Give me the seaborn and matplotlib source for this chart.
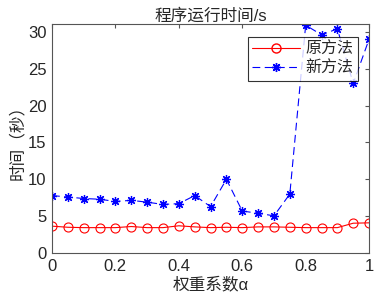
import numpy as np
import pandas as pd
import matplotlib
matplotlib.use("Agg")
import matplotlib.pyplot as plt
import seaborn as sns
from matplotlib.lines import Line2D

alpha = [0.0, 0.05, 0.1, 0.15, 0.2, 0.25, 0.3, 0.35, 0.4, 0.45, 0.5,
         0.55, 0.6, 0.65, 0.7, 0.75, 0.8, 0.85, 0.9, 0.95, 1.0]
old_method = [3.65, 3.5, 3.45, 3.45, 3.45, 3.6, 3.45, 3.45, 3.7, 3.55, 3.45,
              3.5, 3.45, 3.55, 3.55, 3.5, 3.45, 3.45, 3.45, 4.05, 4.1]
new_method = [7.8, 7.6, 7.4, 7.3, 7.0, 7.15, 6.9, 6.6, 6.7, 7.8, 6.3,
              10.0, 5.7, 5.4, 5.05, 8.0, 30.9, 29.6, 30.4, 23.0, 29.0]
series_names = ["原方法", "新方法"]
xticks = [0, 0.2, 0.4, 0.6, 0.8, 1]
xticklabels = ["0", "0.2", "0.4", "0.6", "0.8", "1"]
yticks = [0, 5, 10, 15, 20, 25, 30]

df = pd.DataFrame({
    "alpha": alpha * 2,
    "time": old_method + new_method,
    "method": [series_names[0]] * len(alpha) + [series_names[1]] * len(alpha),
})

sns.set_style("white")
plt.rcParams["font.family"] = ["Liberation Sans", "Noto Sans CJK SC", "DejaVu Sans"]
plt.rcParams["axes.unicode_minus"] = False

fig = plt.figure(figsize=(3.77, 3.02), dpi=100)
ax = fig.add_axes([0.138, 0.162, 0.841, 0.757])

sns.lineplot(data=df, x="alpha", y="time", hue="method", style="method",
             palette={"原方法": "#ff0000", "新方法": "#0000ff"},
             dashes={"原方法": "", "新方法": (7, 4)},
             markers={"原方法": "o", "新方法": "*"},
             ax=ax, linewidth=0.8, markersize=6, legend=False)
for line in ax.lines:
    c = line.get_color()
    if line.get_marker() == "o":
        line.set_markerfacecolor("none")
        line.set_markeredgecolor(c)
        line.set_markeredgewidth(0.8)
        line.set_markersize(6.5)
    else:
        line.set_marker((8, 2, 0))
        line.set_markersize(6.5)
        line.set_markeredgecolor(c)
        line.set_markeredgewidth(0.9)

ax.set_xlim(0, 1)
ax.set_ylim(0, 31)
ax.set_xticks(xticks)
ax.set_xticklabels(xticklabels)
ax.set_yticks(yticks)
ax.tick_params(direction="in", length=3, top=True, right=True, labelsize=12,
               color="#555555", pad=4)
for s in ax.spines.values():
    s.set_color("#555555")
    s.set_linewidth(0.8)

ax.set_xlabel("权重系数α", fontsize=12, labelpad=2)
ax.set_ylabel("时间（秒）", fontsize=12, labelpad=2)
ax.set_title("程序运行时间/s", fontsize=12, pad=3)

handles = [
    Line2D([0], [0], color="#ff0000", lw=0.8, marker="o", markerfacecolor="none",
           markersize=6.5),
    Line2D([0], [0], color="#0000ff", lw=0.8, ls=(0, (7, 4)), marker=(8, 2, 0),
           markersize=6.5),
]
leg = ax.legend(handles, series_names, loc="upper right", fontsize=11.5,
                frameon=True, fancybox=False, edgecolor="black",
                borderpad=0.3, handlelength=3.0, handletextpad=0.3,
                labelspacing=0.25, borderaxespad=0.0,
                bbox_to_anchor=(0.965, 0.945))
leg.get_frame().set_linewidth(0.8)

fig.savefig("out.png", dpi=100)
